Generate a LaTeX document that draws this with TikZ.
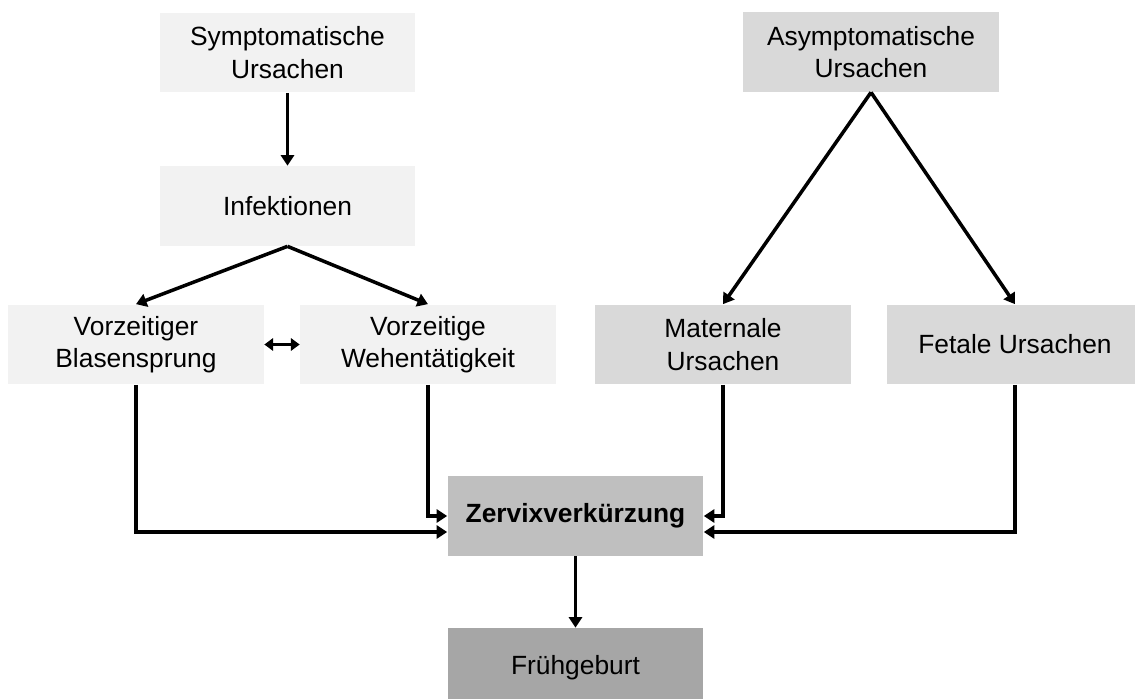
\documentclass[tikz,border=0pt]{standalone}
\usepackage{fontspec}
\setmainfont{Liberation Sans}
\usetikzlibrary{arrows.meta,positioning}

\definecolor{hell}{HTML}{F2F2F2}
\definecolor{mittel}{HTML}{D9D9D9}
\definecolor{dunkel}{HTML}{BFBFBF}
\definecolor{tief}{HTML}{A6A6A6}

\tikzset{
  kasten/.style={rectangle, minimum width=5.12cm, minimum height=1.6cm,
    align=center, font=\fontsize{15}{18.5}\selectfont, inner sep=2pt},
  pfeil/.style={line width=2pt, -{Triangle[length=6pt,width=7.5pt]}},
  doppelpfeil/.style={line width=2pt, {Triangle[length=5pt,width=7pt]}-{Triangle[length=5pt,width=7pt]}}
}

\begin{document}
\begin{tikzpicture}[x=0.02cm, y=-0.02cm]
    \useasboundingbox (0,0) rectangle (1135,699);
    \clip (0,0) rectangle (1135,699);

    \node[kasten, fill=hell] (sym) at (287.5,52.5) {Symptomatische\\Ursachen};
    \node[kasten, fill=hell] (infekt) at (287.5,206) {Infektionen};
    \node[kasten, fill=hell] (blasen) at (136,344.5) {Vorzeitiger\\Blasensprung};
    \node[kasten, fill=hell] (wehen) at (428,344.5) {Vorzeitige\\Wehentätigkeit};

    \node[kasten, fill=mittel] (asym) at (871,52) {Asymptomatische\\Ursachen};
    \node[kasten, fill=mittel] (matern) at (723,344.5) {Maternale\\Ursachen};
    \node[kasten, fill=mittel] (fetal) at (1015,344.5) {Fetale Ursachen};

    \node[kasten, fill=dunkel, font=\fontsize{15}{18.5}\selectfont\bfseries] (zervix) at (575.5,516) {Zervixverkürzung};
    \node[kasten, fill=tief] (frueh) at (575.5,668) {Frühgeburt};

    \draw[pfeil] (sym) -- (infekt);
    \draw[pfeil] (infekt.south) -- (blasen.north);
    \draw[pfeil] (infekt.south) -- (wehen.north);
    \draw[pfeil] (asym.south) -- (matern.north);
    \draw[pfeil] (asym.south) -- (fetal.north);
    \draw[doppelpfeil] (blasen.east) -- (wehen.west);

    \draw[pfeil] (blasen.south) |- ([yshift=-0.32cm]zervix.west);
    \draw[pfeil] (wehen.south) |- (zervix.west);
    \draw[pfeil] (matern.south) |- (zervix.east);
    \draw[pfeil] (fetal.south) |- ([yshift=-0.32cm]zervix.east);

    \draw[pfeil] (zervix) -- (frueh);
\end{tikzpicture}
\end{document}
